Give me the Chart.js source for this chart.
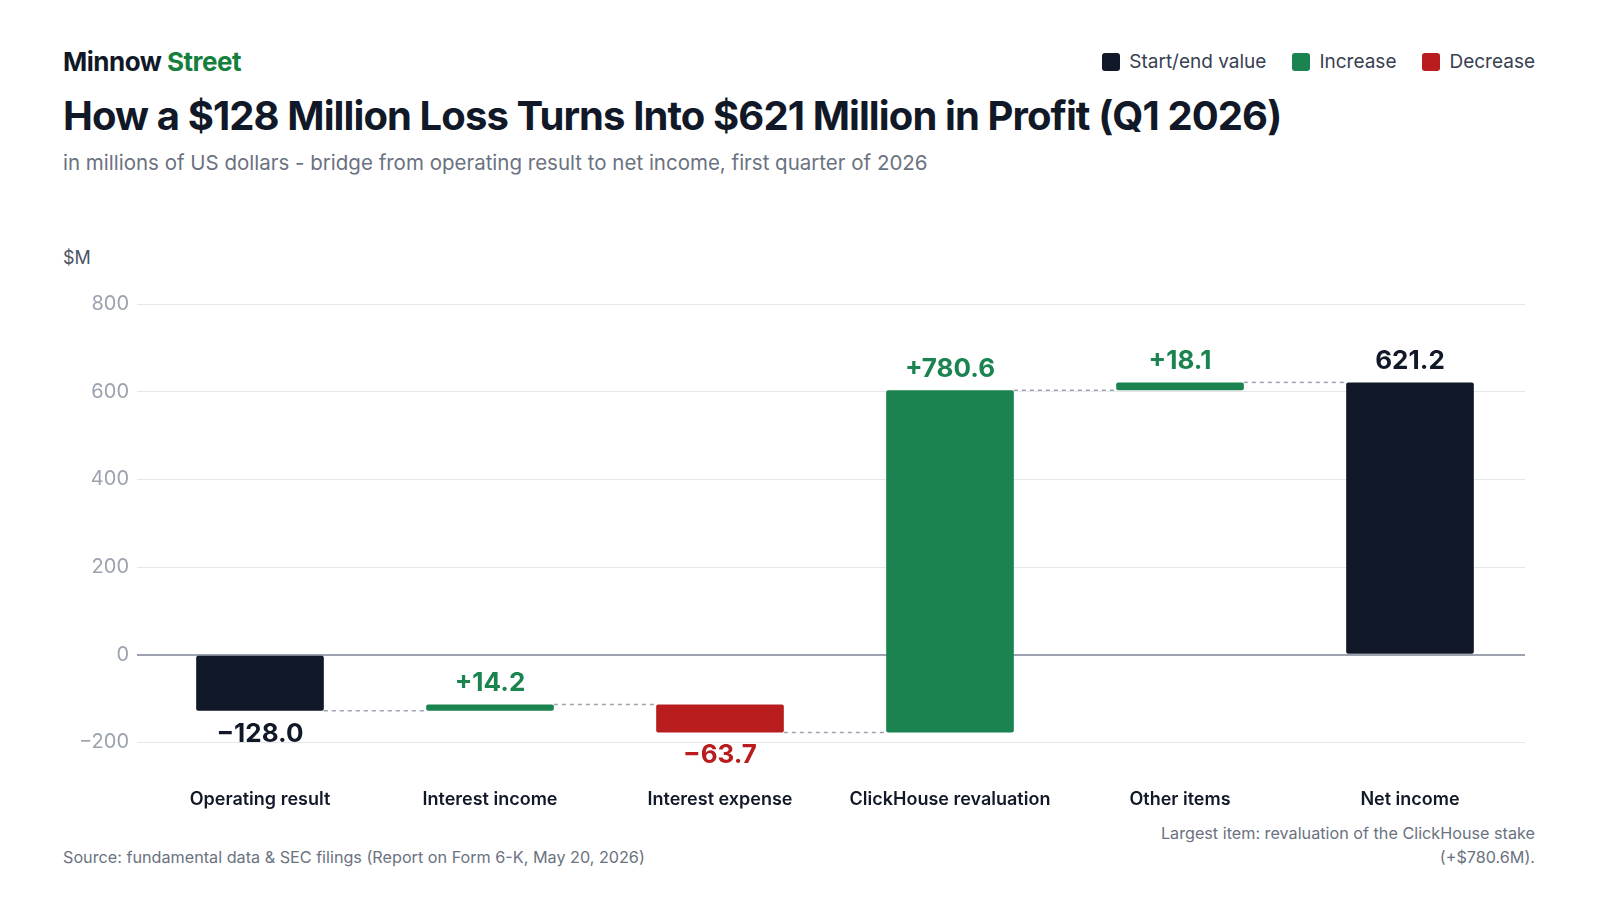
<!DOCTYPE html>
<html><head><meta charset="utf-8">
<script src="https://cdn.jsdelivr.net/npm/chart.js@4.4.0/dist/chart.umd.min.js"></script>
<style>
body{margin:0;width:1600px;height:900px;background:#fff;font-family:Inter,sans-serif;position:relative;overflow:hidden}
.a{position:absolute}
#brand{left:63px;top:46px;font-size:26px;font-weight:700;color:#111827;letter-spacing:-0.5px}
#title{left:63px;top:91px;font-size:40px;font-weight:700;color:#111827;letter-spacing:-0.9px}
#sub{left:63px;top:150px;font-size:20.5px;color:#6b7280}
#unit{left:63px;top:247px;font-size:18px;color:#4b5563}
#legend{right:65px;top:50px;font-size:19px;color:#374151;display:flex;gap:26px}
#legend span{display:flex;align-items:center;gap:9px}
#legend i{width:18px;height:18px;border-radius:3px;display:inline-block}
#src{left:63px;top:847px;font-size:16.2px;color:#6b7280}
#note{right:65px;top:821px;font-size:16.2px;color:#6b7280;text-align:right;line-height:24px}
#wrap{left:63px;top:284px;width:1472px;height:564px}
</style></head><body>
<div class="a" id="brand">Minnow <span style="color:#15803d">Street</span></div>
<div class="a" id="title">How a $128 Million Loss Turns Into $621 Million in Profit (Q1 2026)</div>
<div class="a" id="sub">in millions of US dollars - bridge from operating result to net income, first quarter of 2026</div>
<div class="a" id="unit">$M</div>
<div class="a" id="legend"><span><i style="background:#111827"></i>Start/end value</span><span><i style="background:#1a8350"></i>Increase</span><span><i style="background:#b91c1c"></i>Decrease</span></div>
<div class="a" id="src">Source: fundamental data &amp; SEC filings (Report on Form 6-K, May 20, 2026)</div>
<div class="a" id="note">Largest item: revaluation of the ClickHouse stake<br>(+$780.6M).</div>
<div class="a" id="wrap"><canvas id="c"></canvas></div>
<script>
const categories=["Operating result","Interest income","Interest expense","ClickHouse revaluation","Other items","Net income"];
const changes=[-128.0,14.2,-63.7,780.6,18.1,621.2];
const kinds=["total","delta","delta","delta","delta","total"];
const yTicks=[-200,0,200,400,600,800];
const C={total:"#111827",up:"#1a8350",down:"#b91c1c"};
let cum=0;const ranges=[],colors=[],labels=[],lblColors=[];
changes.forEach((v,i)=>{
 if(kinds[i]==="total"){ranges.push([0,v]);cum=v;colors.push(C.total);labels.push(v.toFixed(1).replace('-','\u2212'));lblColors.push(C.total);}
 else{ranges.push([cum,cum+v]);cum+=v;const c=v>=0?C.up:C.down;colors.push(c);labels.push((v>=0?'+':'\u2212')+Math.abs(v).toFixed(1));lblColors.push(c);}
});
const plug={id:'wf',afterDatasetsDraw(ch){
 const ctx=ch.ctx,m=ch.getDatasetMeta(0),y=ch.scales.y;
 ctx.save();
 ctx.strokeStyle='#9ca3af';ctx.lineWidth=1.5;ctx.setLineDash([4,4]);
 for(let i=0;i<m.data.length-1;i++){const b=m.data[i],n=m.data[i+1];const yy=y.getPixelForValue(ranges[i][1]);
  ctx.beginPath();ctx.moveTo(b.x+b.width/2,yy);ctx.lineTo(n.x-n.width/2,yy);ctx.stroke();}
 ctx.setLineDash([]);ctx.font='700 26px Inter';ctx.textAlign='center';
 m.data.forEach((b,i)=>{const r=ranges[i];const neg=r[1]<r[0]||(kinds[i]==='total'&&r[1]<0);
  const top=y.getPixelForValue(Math.max(r[0],r[1])),bot=y.getPixelForValue(Math.min(r[0],r[1]));
  ctx.fillStyle=lblColors[i];
  if(neg){ctx.textBaseline='top';ctx.fillText(labels[i],b.x,bot+10);}else{ctx.textBaseline='bottom';ctx.fillText(labels[i],b.x,top-8);}
 });
 ctx.restore();}};
new Chart(document.getElementById('c'),{type:'bar',
 data:{labels:categories,datasets:[{data:ranges,backgroundColor:colors,barPercentage:0.555,categoryPercentage:1,borderRadius:2,borderSkipped:false}]},
 options:{responsive:true,maintainAspectRatio:false,animation:false,
  layout:{padding:{top:17,right:10}},
  plugins:{legend:{display:false},tooltip:{enabled:false}},
  scales:{
   x:{grid:{display:false},border:{display:false},ticks:{color:'#111827',font:{family:'Inter',size:18,weight:'600'},padding:38}},
   y:{min:-200,max:800,afterFit(s){s.width=82},afterBuildTicks(s){s.ticks=yTicks.map(v=>({value:v}))},
    border:{display:false},
    grid:{color:c=>c.tick&&c.tick.value===0?'#9ca3af':'#e5e7eb',lineWidth:c=>c.tick&&c.tick.value===0?2:1},
    ticks:{color:'#9ca3af',font:{family:'Inter',size:20},padding:8,callback:v=>v<0?'\u2212'+Math.abs(v):v}}
  }},plugins:[plug]});
</script></body></html>
